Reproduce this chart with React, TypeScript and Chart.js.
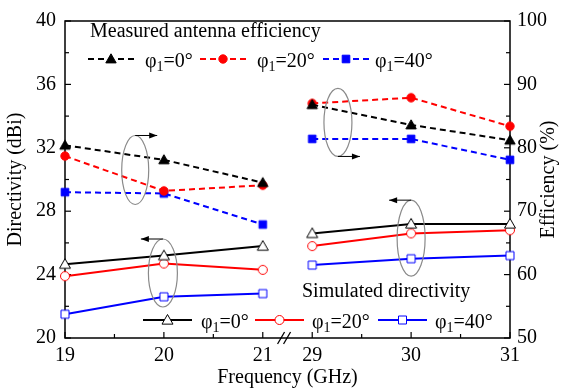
import React, { useEffect, useRef } from 'react';
import { Chart, registerables } from 'chart.js';

Chart.register(...registerables);

// ---- data ----
const freqs = [19, 20, 21, 29, 30, 31];
const xTickLabels = ['19', '20', '21', '29', '30', '31'];
const xMinorTicks = [19.5, 20.5, 29.5, 30.5];
const phiLabels = ['0°', '20°', '40°'];
// Measured antenna efficiency (%), right axis
const effPhi0 = [80.4, 78.1, 74.5, 86.8, 83.6, 81.2];
const effPhi20 = [78.7, 73.2, 74.1, 87.0, 87.9, 83.4];
const effPhi40 = [73.0, 72.8, 67.9, 81.4, 81.4, 78.1];
// Simulated directivity (dBi), left axis
const dirPhi0 = [24.66, 25.2, 25.8, 26.6, 27.2, 27.2];
const dirPhi20 = [23.9, 24.7, 24.3, 25.8, 26.6, 26.8];
const dirPhi40 = [21.5, 22.6, 22.8, 24.6, 25.0, 25.2];

const colors = ['#000000', '#ff0000', '#0000ff'];
const FONT = '"Liberation Serif", "Times New Roman", serif';

// broken frequency axis: 19-21 then 29-31
const axisPos = (f: number) => (f <= 21 ? f - 19 : f - 26.5);
const BREAK_POS = 2.22;

function toPoints(vals: number[]) {
  const pts: any[] = [];
  freqs.forEach((f, i) => {
    if (i > 0 && freqs[i - 1] <= 21 && f > 21) pts.push({ x: BREAK_POS, y: null });
    pts.push({ x: axisPos(f), y: vals[i] });
  });
  return pts;
}

function drawMarker(ctx: CanvasRenderingContext2D, style: string, x: number, y: number, filled: boolean, color: string) {
  ctx.save();
  ctx.beginPath();
  if (style === 'triangle') {
    const s = filled ? 5.2 : 5.5;
    ctx.moveTo(x, y - s);
    ctx.lineTo(x + s, y + s * 0.75);
    ctx.lineTo(x - s, y + s * 0.75);
    ctx.closePath();
  } else if (style === 'circle') {
    ctx.arc(x, y, filled ? 4.2 : 4.5, 0, Math.PI * 2);
  } else {
    const s = filled ? 3.8 : 4;
    ctx.rect(x - s, y - s, 2 * s, 2 * s);
  }
  ctx.fillStyle = filled ? color : '#ffffff';
  ctx.fill();
  ctx.lineWidth = 1;
  ctx.strokeStyle = color;
  ctx.stroke();
  ctx.restore();
}

function drawPhiLabel(ctx: CanvasRenderingContext2D, x: number, baseline: number, deg: string) {
  ctx.save();
  ctx.fillStyle = '#000';
  ctx.textAlign = 'left';
  ctx.textBaseline = 'alphabetic';
  ctx.font = `20px ${FONT}`;
  ctx.fillText('φ', x, baseline);
  let cx = x + ctx.measureText('φ').width;
  ctx.font = `14px ${FONT}`;
  ctx.fillText('1', cx, baseline + 4);
  cx += ctx.measureText('1').width;
  ctx.font = `20px ${FONT}`;
  ctx.fillText('=' + deg, cx, baseline);
  ctx.restore();
}

function drawLegendRow(ctx: CanvasRenderingContext2D, items: any[], y: number, dashed: boolean, filled: boolean) {
  items.forEach((it) => {
    ctx.save();
    ctx.strokeStyle = it.color;
    ctx.lineWidth = 2;
    ctx.setLineDash(dashed ? [6, 4] : []);
    ctx.beginPath();
    ctx.moveTo(it.x0, y);
    ctx.lineTo(it.x1, y);
    ctx.stroke();
    ctx.restore();
    drawMarker(ctx, it.marker, (it.x0 + it.x1) / 2, y, filled, it.color);
    drawPhiLabel(ctx, it.tx, y + 8, it.label);
  });
}

function drawEllipseArrow(ctx: CanvasRenderingContext2D, cx: number, cy: number, rx: number, ry: number, atTop: boolean, dir: number) {
  ctx.save();
  ctx.strokeStyle = '#8a8a8a';
  ctx.lineWidth = 1.2;
  ctx.beginPath();
  ctx.ellipse(cx, cy, rx, ry, 0, 0, Math.PI * 2);
  ctx.stroke();
  const ay = atTop ? cy - ry : cy + ry;
  const ex = cx + dir * 22;
  ctx.strokeStyle = '#000';
  ctx.lineWidth = 1;
  ctx.beginPath();
  ctx.moveTo(cx, ay);
  ctx.lineTo(ex, ay);
  ctx.stroke();
  ctx.fillStyle = '#000';
  ctx.beginPath();
  ctx.moveTo(ex, ay);
  ctx.lineTo(ex - dir * 8, ay - 3);
  ctx.lineTo(ex - dir * 8, ay + 3);
  ctx.closePath();
  ctx.fill();
  ctx.restore();
}

const decoPlugin = {
  id: 'deco',
  beforeDatasetsDraw(chart: any) {
    const { ctx, chartArea: a, scales } = chart;
    const sx = scales.x, sy = scales.y, sy1 = scales.y1;
    ctx.save();
    ctx.strokeStyle = '#000';
    ctx.lineWidth = 1.5;
    ctx.strokeRect(a.left, a.top, a.right - a.left, a.bottom - a.top);
    ctx.lineWidth = 1.2;
    const seg = (x0: number, y0: number, x1: number, y1: number) => {
      ctx.beginPath();
      ctx.moveTo(x0, y0);
      ctx.lineTo(x1, y1);
      ctx.stroke();
    };
    for (let v = 20; v <= 40; v += 2) {
      const py = sy.getPixelForValue(v);
      seg(a.left, py, a.left + (v % 4 === 0 ? 6 : 4), py);
    }
    for (let v = 50; v <= 100; v += 5) {
      const py = sy1.getPixelForValue(v);
      seg(a.right, py, a.right - (v % 10 === 0 ? 6 : 4), py);
    }
    freqs.forEach((f) => {
      const px = sx.getPixelForValue(axisPos(f));
      seg(px, a.bottom, px, a.bottom - 6);
    });
    xMinorTicks.forEach((f) => {
      const px = sx.getPixelForValue(axisPos(f));
      seg(px, a.bottom, px, a.bottom - 4);
    });
    // break marks
    const bx = sx.getPixelForValue(BREAK_POS) - 3;
    ctx.lineWidth = 1.3;
    seg(bx - 4, a.bottom + 6, bx + 3, a.bottom - 6);
    seg(bx + 2, a.bottom + 6, bx + 9, a.bottom - 6);
    ctx.restore();
  },
  afterDraw(chart: any) {
    const { ctx, chartArea: a, scales } = chart;
    const sx = scales.x, sy = scales.y;
    ctx.save();
    ctx.fillStyle = '#000';
    ctx.font = `20px ${FONT}`;
    ctx.textBaseline = 'alphabetic';
    ctx.textAlign = 'left';
    ctx.fillText('Measured antenna efficiency', 90, 37);
    ctx.fillText('Simulated directivity', 302, 297);

    // axis titles
    ctx.textAlign = 'center';
    ctx.textBaseline = 'middle';
    ctx.fillText('Frequency (GHz)', (a.left + a.right) / 2, 378);
    ctx.save();
    ctx.translate(16, (a.top + a.bottom) / 2);
    ctx.rotate(-Math.PI / 2);
    ctx.fillText('Directivity (dBi)', 0, 0);
    ctx.restore();
    ctx.save();
    ctx.translate(549, (a.top + a.bottom) / 2);
    ctx.rotate(-Math.PI / 2);
    ctx.fillText('Efficiency (%)', 0, 0);
    ctx.restore();
    ctx.restore();

    drawLegendRow(ctx, [
      { x0: 88, x1: 134, tx: 145, color: colors[0], marker: 'triangle', label: phiLabels[0] },
      { x0: 200, x1: 246, tx: 257, color: colors[1], marker: 'circle', label: phiLabels[1] },
      { x0: 323, x1: 369, tx: 375, color: colors[2], marker: 'rect', label: phiLabels[2] },
    ], 59, true, true);
    drawLegendRow(ctx, [
      { x0: 143, x1: 192, tx: 201, color: colors[0], marker: 'triangle', label: phiLabels[0] },
      { x0: 255, x1: 304, tx: 312, color: colors[1], marker: 'circle', label: phiLabels[1] },
      { x0: 378, x1: 427, tx: 435, color: colors[2], marker: 'rect', label: phiLabels[2] },
    ], 320, false, false);

    drawEllipseArrow(ctx, sx.getPixelForValue(0.71), sy.getPixelForValue(30.6), 13.5, 34.5, true, 1);
    drawEllipseArrow(ctx, sx.getPixelForValue(2.76), sy.getPixelForValue(33.6), 14, 34, false, 1);
    drawEllipseArrow(ctx, sx.getPixelForValue(0.99), sy.getPixelForValue(24.1), 14.5, 34, true, -1);
    drawEllipseArrow(ctx, sx.getPixelForValue(3.5), sy.getPixelForValue(26.3), 14, 38, true, -1);
  },
};

function makeMarkerCanvas(style: string, filled: boolean, color: string) {
  const c = document.createElement('canvas');
  c.width = 16;
  c.height = 16;
  const cctx = c.getContext('2d')!;
  drawMarker(cctx, style, 8, 8, filled, color);
  return c;
}

export default function App() {
  const ref = useRef<HTMLCanvasElement>(null);
  useEffect(() => {
    const styles = ['triangle', 'circle', 'rect'];
    const effSeries = [effPhi0, effPhi20, effPhi40];
    const dirSeries = [dirPhi0, dirPhi20, dirPhi40];
    const datasets: any[] = [];
    effSeries.forEach((vals, i) => {
      datasets.push({
        label: 'Measured φ1=' + phiLabels[i],
        data: toPoints(vals),
        yAxisID: 'y1',
        borderColor: colors[i],
        borderWidth: 2,
        borderDash: [6, 4],
        pointStyle: makeMarkerCanvas(styles[i], true, colors[i]),
        pointRadius: 5,
        spanGaps: false,
        clip: false,
        tension: 0,
      });
    });
    dirSeries.forEach((vals, i) => {
      datasets.push({
        label: 'Simulated φ1=' + phiLabels[i],
        data: toPoints(vals),
        yAxisID: 'y',
        borderColor: colors[i],
        borderWidth: 2,
        pointStyle: makeMarkerCanvas(styles[i], false, colors[i]),
        pointRadius: 5,
        spanGaps: false,
        clip: false,
        tension: 0,
      });
    });
    const tickFont = { family: FONT, size: 20 };
    const noGrid = { display: false, drawTicks: false };
    const chart = new Chart(ref.current!, {
      type: 'line',
      data: { datasets },
      options: {
        animation: false,
        responsive: false,
        maintainAspectRatio: false,
        layout: { padding: { top: 12, left: 0, right: 0, bottom: 0 } },
        plugins: { legend: { display: false }, tooltip: { enabled: false } },
        scales: {
          x: {
            type: 'linear',
            min: 0,
            max: 4.5,
            grid: noGrid,
            border: { display: false },
            afterBuildTicks: (scale: any) => {
              scale.ticks = freqs.map((f) => ({ value: axisPos(f) }));
            },
            afterFit: (scale: any) => {
              scale.height = 54;
            },
            ticks: {
              autoSkip: false,
              maxRotation: 0,
              color: '#000',
              font: tickFont,
              padding: 6,
              callback: (v: any) => {
                const idx = freqs.findIndex((f) => Math.abs(axisPos(f) - Number(v)) < 1e-6);
                return idx >= 0 ? xTickLabels[idx] : '';
              },
            },
          },
          y: {
            position: 'left',
            min: 20,
            max: 40,
            grid: noGrid,
            border: { display: false },
            afterFit: (scale: any) => {
              scale.width = 65;
            },
            ticks: { stepSize: 4, color: '#000', font: tickFont, padding: 9 },
          },
          y1: {
            position: 'right',
            min: 50,
            max: 100,
            grid: noGrid,
            border: { display: false },
            afterFit: (scale: any) => {
              scale.width = 53;
            },
            ticks: { stepSize: 10, color: '#000', font: tickFont, padding: 7 },
          },
        },
      },
      plugins: [decoPlugin],
    });
    return () => chart.destroy();
  }, []);
  return (
    <div style={{ position: 'fixed', left: 0, top: 0, width: 563, height: 392, background: '#fff' }}>
      <canvas ref={ref} width={563} height={392} />
    </div>
  );
}
